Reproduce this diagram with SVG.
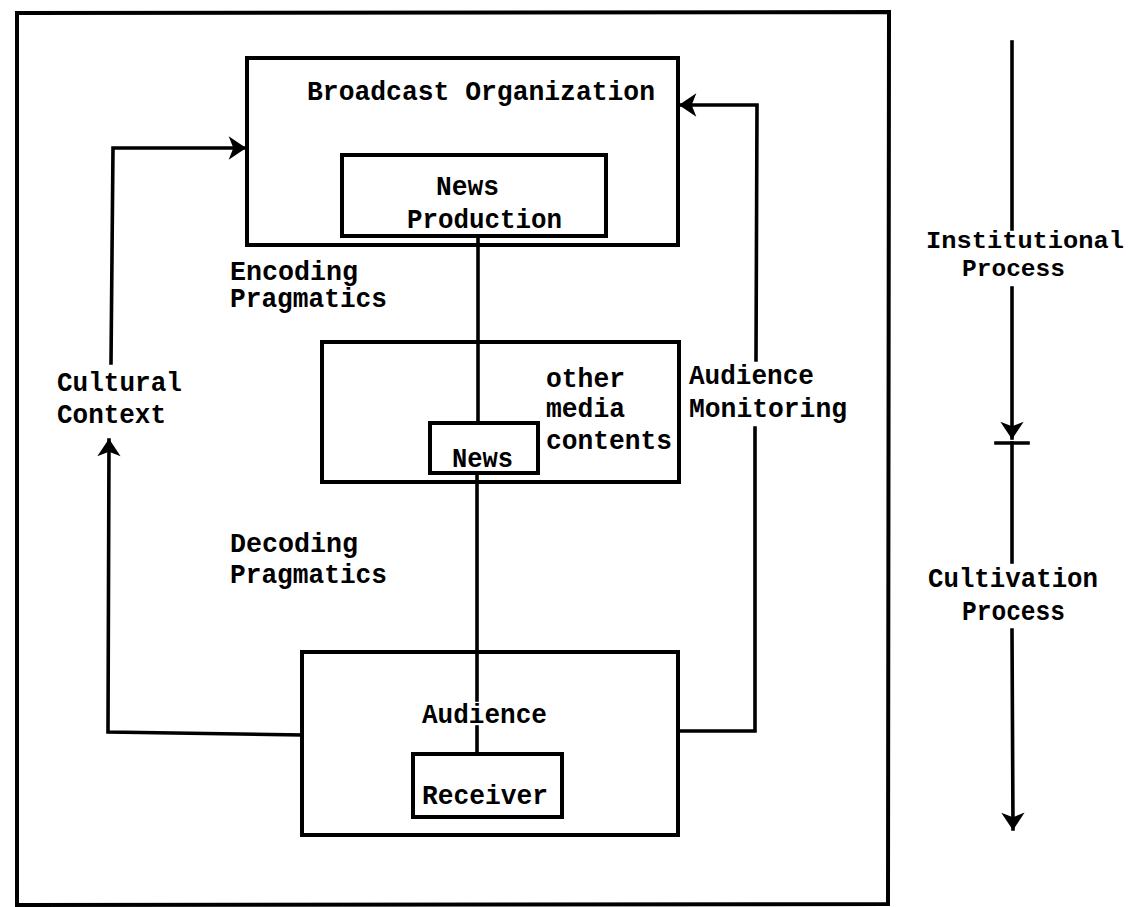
<svg xmlns="http://www.w3.org/2000/svg" width="1133" height="907" viewBox="0 0 1133 907">
<defs>
<style>
.box{fill:none;stroke:#000;stroke-width:4}
.ln{fill:none;stroke:#000;stroke-width:3.6;stroke-linecap:square;stroke-linejoin:miter}
.t{font-family:"Liberation Mono","Courier New",monospace;font-weight:bold;font-size:27px;fill:#000}
.s{font-size:24px}
</style>
<marker id="ah" markerUnits="userSpaceOnUse" markerWidth="28" markerHeight="28" viewBox="-16 -12 18 24" refX="0" refY="0" orient="auto">
<path d="M1,0 L-14,-10 L-10,0 L-14,10 Z" fill="#000"/>
</marker>
</defs>
<rect width="1133" height="907" fill="#fff"/>

<g id="frame">
<path class="box" d="M17,13 L889,12 L888,904 L17,905 Z"/>
</g>

<g id="broadcast-organization">
<rect class="box" x="247" y="58" width="431" height="187"/>
<text class="t" x="307" y="100" textLength="348" lengthAdjust="spacingAndGlyphs">Broadcast Organization</text>
</g>

<g id="news-production">
<rect class="box" x="342" y="155" width="264" height="81"/>
<text class="t" x="436" y="195" textLength="63" lengthAdjust="spacingAndGlyphs">News</text>
<text class="t" x="407" y="228" textLength="155" lengthAdjust="spacingAndGlyphs">Production</text>
</g>

<g id="media-contents">
<rect class="box" x="322" y="342" width="357" height="140"/>
<text class="t" x="546" y="387" textLength="79" lengthAdjust="spacingAndGlyphs">other</text>
<text class="t" x="546" y="417" textLength="79" lengthAdjust="spacingAndGlyphs">media</text>
<text class="t" x="546" y="449" textLength="126" lengthAdjust="spacingAndGlyphs">contents</text>
</g>

<g id="news">
<rect class="box" x="430" y="423" width="108" height="50"/>
<text class="t" x="452" y="467" textLength="61" lengthAdjust="spacingAndGlyphs">News</text>
</g>

<g id="audience">
<rect class="box" x="302" y="652" width="376" height="183"/>
<text class="t" x="422" y="723" textLength="125" lengthAdjust="spacingAndGlyphs">Audience</text>
</g>

<g id="receiver">
<rect class="box" x="413" y="754" width="149" height="63"/>
<text class="t" x="422" y="804" textLength="126" lengthAdjust="spacingAndGlyphs">Receiver</text>
</g>

<g id="labels">
<text class="t" x="230" y="280" textLength="128" lengthAdjust="spacingAndGlyphs">Encoding</text>
<text class="t" x="230" y="307" textLength="157" lengthAdjust="spacingAndGlyphs">Pragmatics</text>
<text class="t" x="230" y="552" textLength="128" lengthAdjust="spacingAndGlyphs">Decoding</text>
<text class="t" x="230" y="583" textLength="157" lengthAdjust="spacingAndGlyphs">Pragmatics</text>
<text class="t" x="57" y="391" textLength="125" lengthAdjust="spacingAndGlyphs">Cultural</text>
<text class="t" x="57" y="423" textLength="109" lengthAdjust="spacingAndGlyphs">Context</text>
<text class="t" x="689" y="384" textLength="125" lengthAdjust="spacingAndGlyphs">Audience</text>
<text class="t" x="689" y="417" textLength="158" lengthAdjust="spacingAndGlyphs">Monitoring</text>
<text class="t s" x="926" y="248" textLength="198" lengthAdjust="spacingAndGlyphs">Institutional</text>
<text class="t s" x="962" y="276" textLength="103" lengthAdjust="spacingAndGlyphs">Process</text>
<text class="t" x="928" y="587" textLength="170" lengthAdjust="spacingAndGlyphs">Cultivation</text>
<text class="t" x="962" y="620" textLength="103" lengthAdjust="spacingAndGlyphs">Process</text>
</g>

<g id="connectors">
<!-- news flow -->
<path class="ln" d="M478,237 L478,423"/>
<path class="ln" d="M477,473 L477,700"/>
<path class="ln" d="M477,727 L477,754"/>
<!-- cultural context loop -->
<path class="ln" d="M302,735 L108,732 L109,440" marker-end="url(#ah)"/>
<path class="ln" d="M111,363 L113,148 L245,148" marker-end="url(#ah)"/>
<!-- audience monitoring loop -->
<path class="ln" d="M679,731 L755,731 L755,428"/>
<path class="ln" d="M756,360 L757,105 L680,105" marker-end="url(#ah)"/>
<!-- process arrow -->
<path class="ln" d="M1012,42 L1012,229"/>
<path class="ln" d="M1012,288 L1012,438" marker-end="url(#ah)"/>
<path class="ln" d="M996,443 L1028,443"/>
<path class="ln" d="M1012,443 L1012,562"/>
<path class="ln" d="M1012,630 L1013,829" marker-end="url(#ah)"/>
</g>
</svg>
